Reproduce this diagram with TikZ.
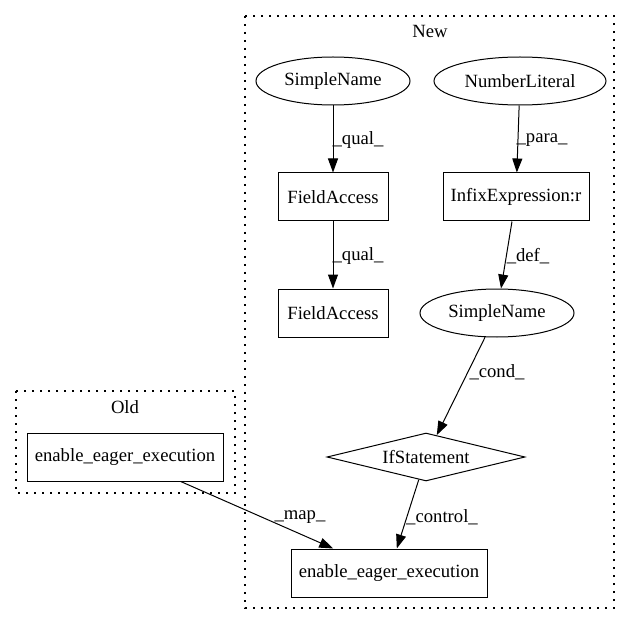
\documentclass[tikz,border=0pt]{standalone}
\usepackage{fontspec}
\setmainfont{Liberation Serif}
\usetikzlibrary{shapes.geometric,arrows.meta}
\begin{document}
\begin{tikzpicture}[x=0.75pt,y=-0.75pt,
  every node/.style={font=\fontsize{14}{16}\selectfont, inner sep=0pt},
  box/.style={draw, rectangle, line width=0.75pt, minimum height=36pt},
  ell/.style={draw, ellipse, line width=0.75pt, minimum height=36pt},
  dia/.style={draw, diamond, aspect=4.125, line width=0.75pt, minimum width=148.5pt, minimum height=36pt},
  conn/.style={line width=0.75pt, -{Triangle[length=10.5pt,width=7.5pt]}},
  lab/.style={},
  cluster/.style={line width=1pt, dash pattern=on 1.2pt off 4.8pt}]
\useasboundingbox (0,0) rectangle (632,624);
\fill[white] (0,0) rectangle (632,624);
% clusters
\draw[cluster] (245,16) rectangle (614,608);
\node (newlab) at (430,31) {New};
\draw[cluster] (16,391) rectangle (235,493);
\node (oldlab) at (125,407) {Old};
% nodes
\node[ell, minimum width=115.5pt] (sn1) at (333,81) {SimpleName};
\node[ell, minimum width=129pt] (nl) at (520,81) {NumberLiteral};
\node[box, minimum width=82.5pt] (fa1) at (333,197) {FieldAccess};
\node[box, minimum width=109.5pt] (ie) at (516,197) {InfixExpression:r};
\node[box, minimum width=82.5pt] (fa2) at (333,313) {FieldAccess};
\node[ell, minimum width=115.5pt] (sn2) at (497,313) {SimpleName};
\node[dia] (if) at (426,457) {IfStatement};
\node[box, minimum width=147pt] (oldee) at (125,457) {enable\_eager\_execution};
\node[box, minimum width=147pt] (newee) at (389,573) {enable\_eager\_execution};
% connectors
\draw[conn] (sn1) -- (fa1) node[lab] at (358,140) {\_qual\_};
\draw[conn] (nl) -- (ie) node[lab] at (542,140) {\_para\_};
\draw[conn] (fa1) -- (fa2) node[lab] at (358,256) {\_qual\_};
\draw[conn] (ie) -- (sn2) node[lab] at (528,256) {\_def\_};
\draw[conn] (sn2) -- (if) node[lab] at (497,372) {\_cond\_};
\draw[conn] (if) -- (newee) node[lab] at (442,517) {\_control\_};
\draw[conn] (oldee) -- (newee) node[lab] at (300,517) {\_map\_};
\end{tikzpicture}
\end{document}
